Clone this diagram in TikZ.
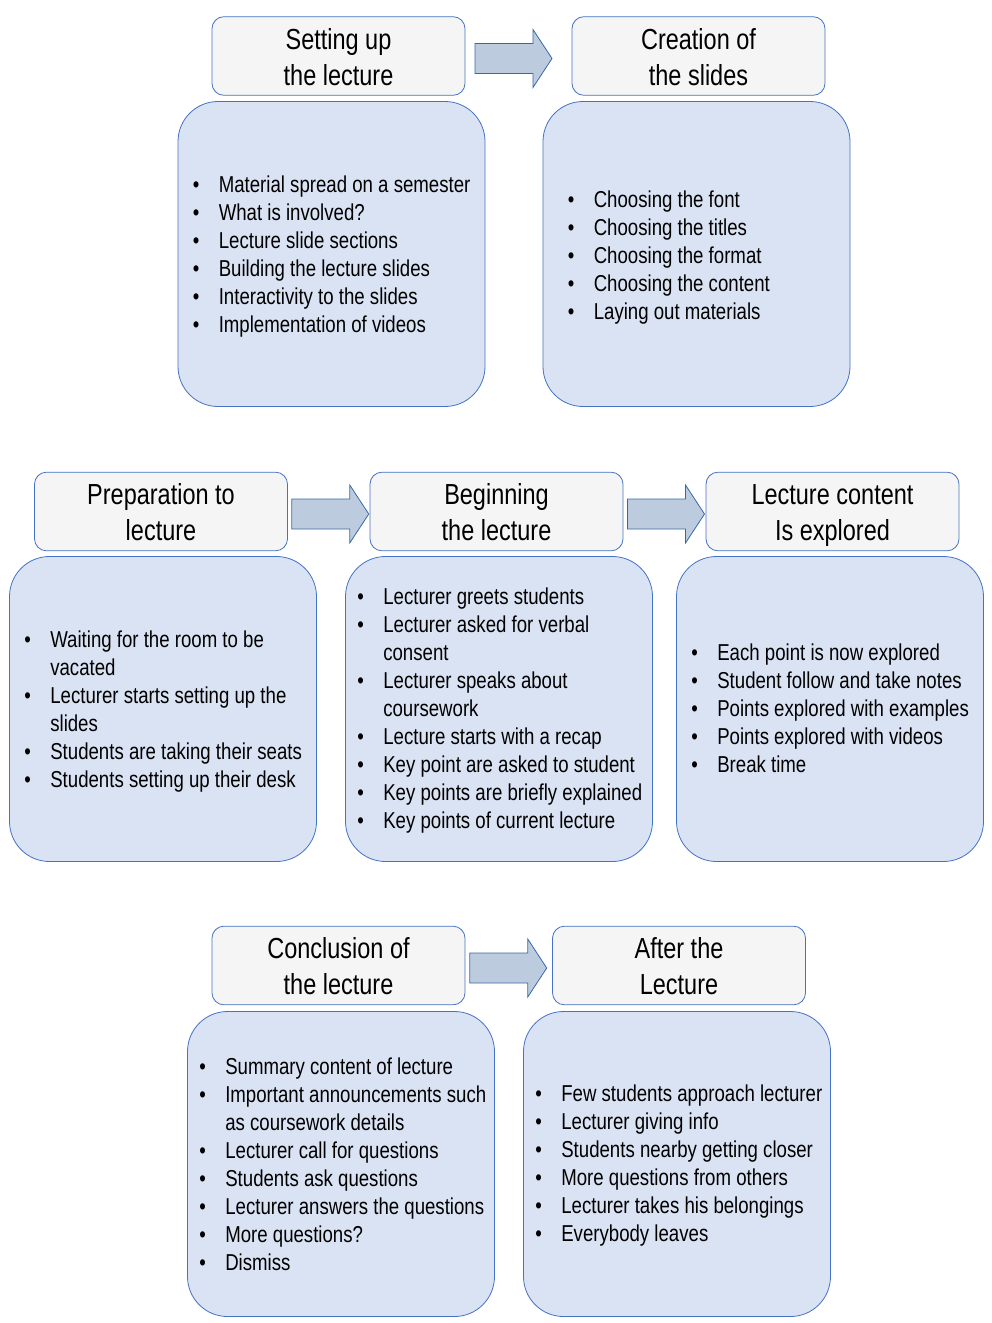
\documentclass[tikz,border=0pt]{standalone}
\usepackage{fontspec}
\setmainfont{Liberation Sans}[FakeStretch=0.81]
\usetikzlibrary{calc}

\definecolor{headfill}{HTML}{F5F5F5}
\definecolor{bodyfill}{HTML}{DAE3F3}
\definecolor{edgeblue}{HTML}{4472C4}
\definecolor{arrowfill}{HTML}{BCCCDE}
\definecolor{arrowedge}{HTML}{3A67A8}

\newcommand\itm{\makebox[26pt][l]{\textbullet}}
\newcommand\cnt{\hspace*{26pt}}
% two-line header text with fixed top and bottom
\newcommand\hd[2]{\rule{0pt}{29pt}#1\\#2\rule[-7pt]{0pt}{7pt}}
% block arrow between two headers: from, to, x shift
\newcommand\flow[3]{%
  \coordinate (m) at ($(#1.east)!0.5!(#2.west)+(#3,2.5)$);
  \draw[flowarrow] ($(m)+(-38.5,-15)$) -- ($(m)+(19.5,-15)$) -- ($(m)+(19.5,-29)$)
    -- ($(m)+(38.5,0)$) -- ($(m)+(19.5,29)$) -- ($(m)+(19.5,15)$) -- ($(m)+(-38.5,15)$) -- cycle;}

\begin{document}
\begin{tikzpicture}[
        x=1pt,y=-1pt,
        stage/.style={draw=edgeblue, fill=headfill, line width=0.8pt, rounded corners=12pt,
          minimum width=253pt, minimum height=78pt, align=center,
          font=\fontsize{29}{36}\selectfont},
        bodybox/.style={draw=edgeblue, fill=bodyfill, line width=0.8pt, rounded corners=40pt,
          minimum width=307pt, minimum height=305pt},
        items/.style={anchor=west, inner sep=0pt, align=left,
          font=\fontsize{23}{28}\selectfont},
        flowarrow/.style={draw=arrowedge, fill=arrowfill, line width=0.8pt},
        ]
        \useasboundingbox (0,0) rectangle (992,1323);

        % row 1
        \node[stage]   (setup)     at (338.5,56)  {\hd{Setting up}{the lecture}};
        \node[bodybox] (setupbody) at (331.5,254) {};
        \node[items]   (setuptext) at ($(setupbody.west)+(15,3)$)
          {\itm Material spread on a semester\\ \itm What is involved?\\ \itm Lecture slide sections\\
           \itm Building the lecture slides\\ \itm Interactivity to the slides\\ \itm Implementation of videos};

        \node[stage]   (slides)     at (698.5,56)  {\hd{Creation of}{the slides}};
        \node[bodybox] (slidesbody) at (696.5,254) {};
        \node[items]   (slidestext) at ($(slidesbody.west)+(25,4)$)
          {\itm Choosing the font\\ \itm Choosing the titles\\ \itm Choosing the format\\
           \itm Choosing the content\\ \itm Laying out materials};

        % row 2
        \node[stage]   (prep)     at (161,511.5) {\hd{Preparation to}{lecture}};
        \node[bodybox] (prepbody) at (163,709)   {};
        \node[items]   (preptext) at ($(prepbody.west)+(15,3)$)
          {\itm Waiting for the room to be\\ \cnt vacated\\ \itm Lecturer starts setting up the\\ \cnt slides\\
           \itm Students are taking their seats\\ \itm Students setting up their desk};

        \node[stage]   (begin)     at (496.5,511.5) {\hd{Beginning}{the lecture}};
        \node[bodybox] (beginbody) at (499,709)     {};
        \node[items]   (begintext) at ($(beginbody.west)+(12,2)$)
          {\itm Lecturer greets students\\ \itm Lecturer asked for verbal\\ \cnt consent\\
           \itm Lecturer speaks about\\ \cnt coursework\\ \itm Lecture starts with a recap\\
           \itm Key point are asked to student\\ \itm Key points are briefly explained\\
           \itm Key points of current lecture};

        \node[stage]   (content)     at (832.5,511.5) {\hd{Lecture content}{Is explored}};
        \node[bodybox] (contentbody) at (830,709)     {};
        \node[items]   (contenttext) at ($(contentbody.west)+(15,-1)$)
          {\itm Each point is now explored\\ \itm Student follow and take notes\\
           \itm Points explored with examples\\ \itm Points explored with videos\\ \itm Break time};

        % row 3
        \node[stage]   (concl)     at (338.5,965.5) {\hd{Conclusion of}{the lecture}};
        \node[bodybox] (conclbody) at (341,1164)    {};
        \node[items]   (concltext) at ($(conclbody.west)+(12,0)$)
          {\itm Summary content of lecture\\ \itm Important announcements such\\ \cnt as coursework details\\
           \itm Lecturer call for questions\\ \itm Students ask questions\\
           \itm Lecturer answers the questions\\ \itm More questions?\\ \itm Dismiss};

        \node[stage]   (after)     at (679,965.5) {\hd{After the}{Lecture}};
        \node[bodybox] (afterbody) at (677,1164)  {};
        \node[items]   (aftertext) at ($(afterbody.west)+(12,2)$)
          {\itm Few students approach lecturer\\ \itm Lecturer giving info\\
           \itm Students nearby getting closer\\ \itm More questions from others\\
           \itm Lecturer takes his belongings\\ \itm Everybody leaves};

        % arrows
        \flow{setup}{slides}{-5}
        \flow{prep}{begin}{1.5}
        \flow{begin}{content}{1.5}
        \flow{concl}{after}{-0.5}
      \end{tikzpicture}
\end{document}
